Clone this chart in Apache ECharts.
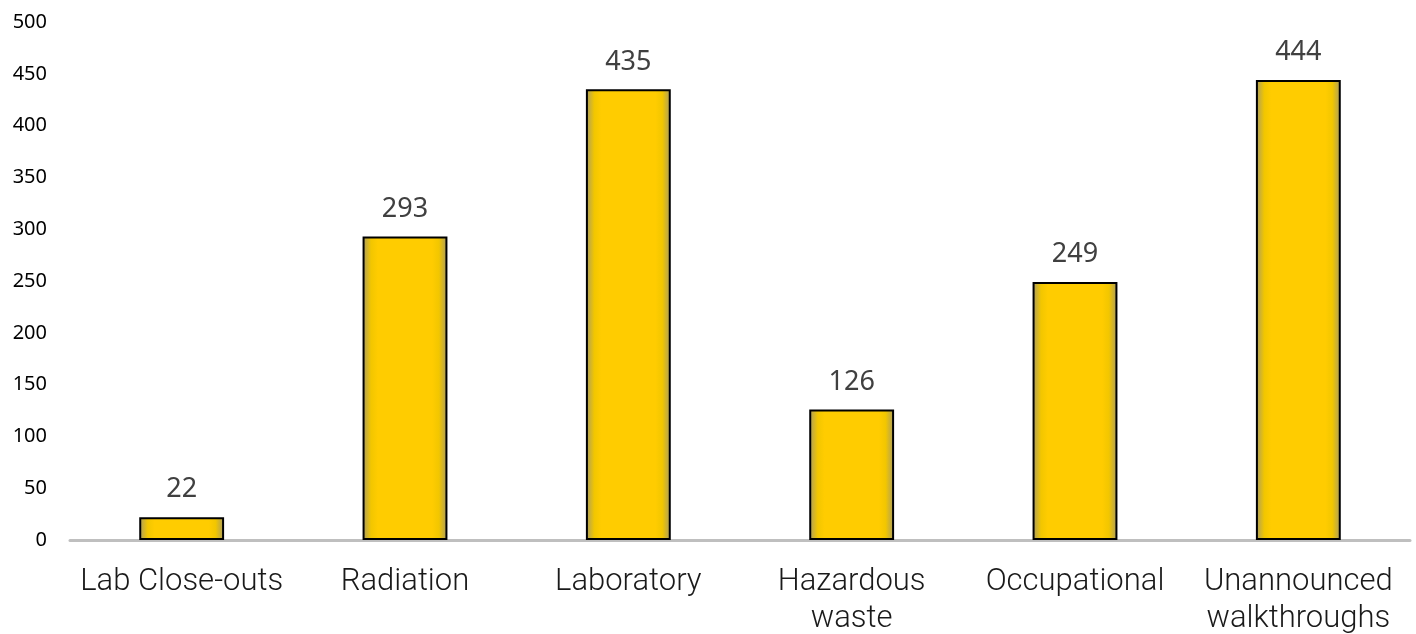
<!DOCTYPE html>
<html>
<head>
<meta charset="utf-8">
<script src="https://cdn.jsdelivr.net/npm/echarts@6/dist/echarts.min.js"></script>
<style>
html,body{margin:0;padding:0;background:#fff;}
#chart{width:1416px;height:634px;}
</style>
</head>
<body>
<div id="chart"></div>
<script>
const categories = ['Lab Close-outs', 'Radiation', 'Laboratory', 'Hazardous\nwaste', 'Occupational', 'Unannounced\nwalkthroughs'];
const values = [22, 293, 435, 126, 249, 444];
const yTicks = { min: 0, max: 500, interval: 50 };

const chart = echarts.init(document.getElementById('chart'));
const glow = new echarts.graphic.LinearGradient(0, 0, 1, 0, [
  { offset: 0, color: '#a89c64' },
  { offset: 0.1, color: '#f2c600' },
  { offset: 0.18, color: '#ffcc00' },
  { offset: 0.82, color: '#ffcc00' },
  { offset: 0.9, color: '#f2c600' },
  { offset: 1, color: '#a89c64' }
]);
chart.setOption({
  animation: false,
  grid: { left: 70, right: 6, top: 22, bottom: 94, containLabel: false, outerBoundsMode: 'none' },
  xAxis: {
    type: 'category',
    data: categories,
    axisLine: { show: true, lineStyle: { color: '#bfbfbf', width: 3 } },
    axisTick: { show: false },
    axisLabel: {
      color: '#1a1a1a',
      fontFamily: 'Roboto',
      fontWeight: 300,
      fontSize: 31,
      lineHeight: 37,
      margin: 24,
      interval: 0
    }
  },
  yAxis: {
    type: 'value',
    min: yTicks.min,
    max: yTicks.max,
    interval: yTicks.interval,
    axisLine: { show: false },
    axisTick: { show: false },
    splitLine: { show: false },
    axisLabel: {
      color: '#000',
      fontFamily: 'Noto Sans',
      fontSize: 20,
      margin: 23
    }
  },
  series: [{
    type: 'bar',
    data: values,
    barWidth: '38%',
    itemStyle: { color: glow, borderColor: '#000', borderWidth: 2 },
    label: {
      show: true,
      position: 'top',
      distance: 14,
      color: '#404040',
      fontFamily: 'Noto Sans',
      fontSize: 27
    }
  }]
});
</script>
</body>
</html>
